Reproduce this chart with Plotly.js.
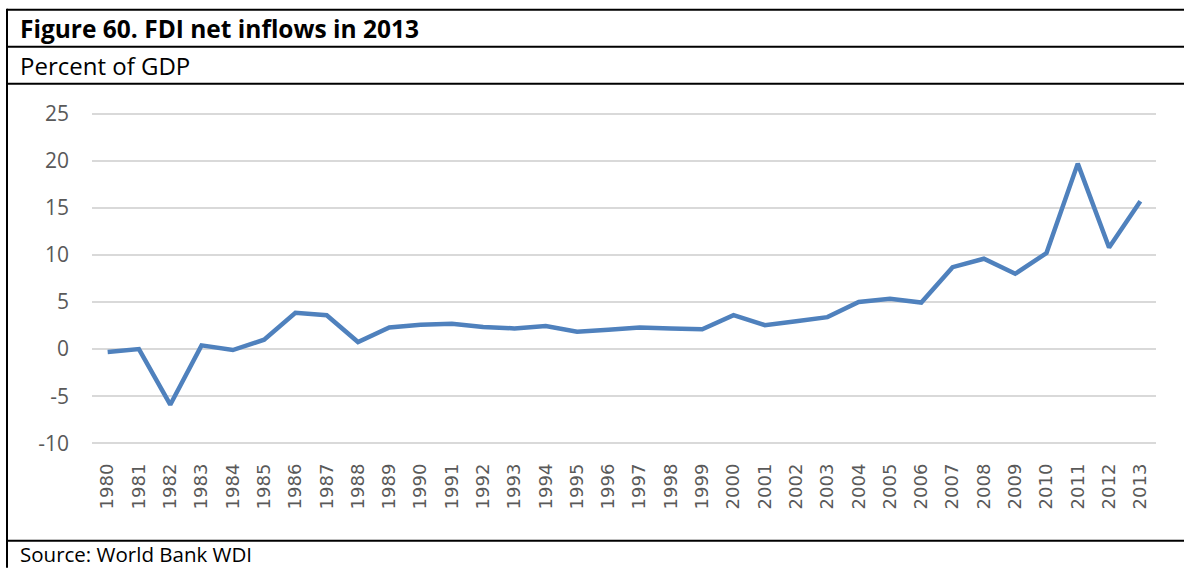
<!DOCTYPE html>
<html>
<head>
<meta charset="utf-8">
<script src="https://cdn.plot.ly/plotly-3.0.1.min.js"></script>
<style>
html,body{margin:0;padding:0;background:#fff;}
#chart{width:1184px;height:568px;}
</style>
</head>
<body>
<div id="chart"></div>
<script>
// ---- data ----
const years = ["1980","1981","1982","1983","1984","1985","1986","1987","1988","1989",
  "1990","1991","1992","1993","1994","1995","1996","1997","1998","1999",
  "2000","2001","2002","2003","2004","2005","2006","2007","2008","2009",
  "2010","2011","2012","2013"];
const fdiPctGdp = [-0.3, 0.0, -5.9, 0.4, -0.1, 1.0, 3.85, 3.6, 0.75, 2.3,
  2.6, 2.7, 2.35, 2.2, 2.45, 1.85, 2.05, 2.3, 2.2, 2.1,
  3.6, 2.55, 2.95, 3.4, 5.0, 5.35, 4.95, 8.7, 9.6, 8.0,
  10.2, 19.7, 10.8, 15.7];
const yTicks = [-10, -5, 0, 5, 10, 15, 20, 25];
const titleText = "Figure 60. FDI net inflows in 2013";
const subtitleText = "Percent of GDP";
const sourceText = "Source: World Bank WDI";

// ---- layout geometry (pixels) ----
const W = 1184, H = 568;
const yMin = -10, yMax = 25, pad = 0.5;
const gTop = 114, gBot = 443.5;               // pixel rows of 25 and -10 gridlines
const pxPerUnit = (gBot - gTop) / (yMax - yMin);
const L = 92, R = 28;
const T = gTop - pad * pxPerUnit, B = H - (gBot + pad * pxPerUnit);
const pw = W - L - R, ph = H - T - B;
const px = v => (v - L) / pw;
const py = v => (H - B - v) / ph;

const border = {color: "#000", width: 2};
const hline = yy => ({type: "line", xref: "paper", yref: "paper",
  x0: px(7), x1: px(W), y0: py(yy), y1: py(yy), line: border});

const textFont = "'Open Sans', 'Noto Sans', sans-serif";

const trace = {
  x: years, y: fdiPctGdp, type: "scatter", mode: "lines",
  line: {color: "#4f81bd", width: 4.5},
  hoverinfo: "skip"
};

const layout = {
  width: W, height: H,
  margin: {l: L, r: R, t: T, b: B, pad: 0},
  paper_bgcolor: "#fff", plot_bgcolor: "#fff",
  showlegend: false,
  xaxis: {
    type: "category", range: [-0.5, years.length - 0.5],
    tickangle: -90, showgrid: false, zeroline: false, showline: false,
    ticks: "", ticklen: 0, ticklabelstandoff: 11,
    tickfont: {family: "'DejaVu Sans', sans-serif", size: 18, color: "#595959"},
    automargin: false
  },
  yaxis: {
    range: [yMin - pad, yMax + pad], tickvals: yTicks, ticktext: yTicks.map(String),
    showgrid: true, gridcolor: "#d9d9d9", gridwidth: 2,
    zeroline: false, showline: false, ticks: "", ticklabelstandoff: 22,
    tickfont: {family: textFont, size: 21, color: "#595959"},
    automargin: false
  },
  shapes: [
    hline(10), hline(47), hline(84), hline(541),
    {type: "line", xref: "paper", yref: "paper", x0: px(7), x1: px(7),
     y0: py(9), y1: py(H), line: border}
  ],
  annotations: [
    {text: "<b>" + titleText + "</b>", xref: "paper", yref: "paper",
     x: px(18), y: py(29), xanchor: "left", yanchor: "middle", showarrow: false,
     font: {family: textFont, size: 24.5, color: "#000"}},
    {text: subtitleText, xref: "paper", yref: "paper",
     x: px(18), y: py(66), xanchor: "left", yanchor: "middle", showarrow: false,
     font: {family: textFont, size: 24, color: "#000"}},
    {text: sourceText, xref: "paper", yref: "paper",
     x: px(18), y: py(554), xanchor: "left", yanchor: "middle", showarrow: false,
     font: {family: textFont, size: 20.5, color: "#000"}}
  ]
};

Plotly.newPlot("chart", [trace], layout, {displayModeBar: false, staticPlot: true});
</script>
</body>
</html>
